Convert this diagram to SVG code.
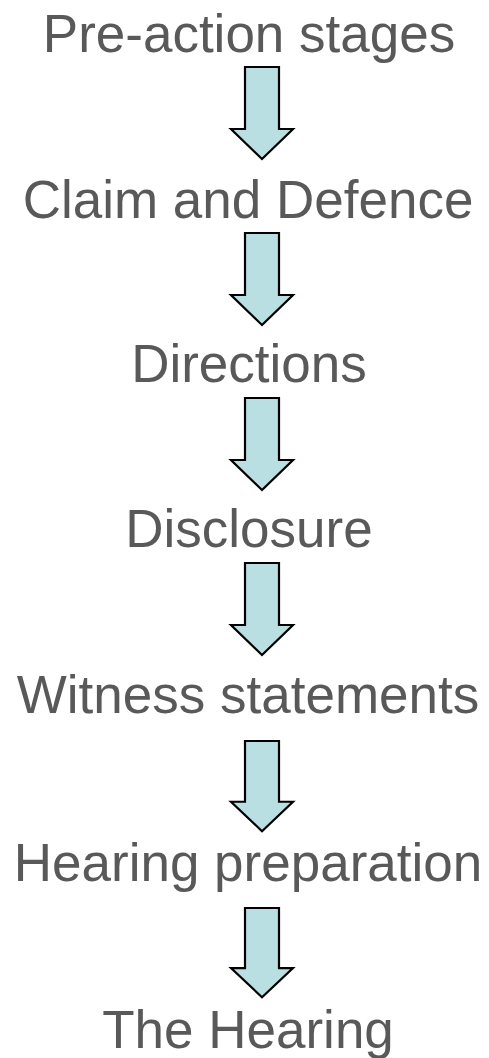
<svg xmlns="http://www.w3.org/2000/svg" width="489" height="1058" viewBox="0 0 489 1058">
<style>
.t{font-family:"Liberation Sans",Arial,sans-serif;font-size:53px;fill:#595959;text-anchor:middle}
.a{fill:#b9dfe2;stroke:#000;stroke-width:2.2;stroke-linejoin:miter}
</style>
<defs>
<path id="arr" d="M-17,0 H17 V62 H31 L0,92 L-31,62 H-17 Z"/>
</defs>
<rect width="489" height="1058" fill="#fff"/>
<g id="n1"><text class="t" x="249" y="52">Pre-action stages</text></g>
<g id="n2"><text class="t" x="248" y="218">Claim and Defence</text></g>
<g id="n3"><text class="t" x="249" y="382">Directions</text></g>
<g id="n4"><text class="t" x="249" y="547">Disclosure</text></g>
<g id="n5"><text class="t" x="248" y="713">Witness statements</text></g>
<g id="n6"><text class="t" x="248" y="881">Hearing preparation</text></g>
<g id="n7"><text class="t" x="248" y="1048">The Hearing</text></g>
<g id="connectors">
<use href="#arr" class="a" transform="translate(262,67)"/>
<use href="#arr" class="a" transform="translate(262,233)"/>
<use href="#arr" class="a" transform="translate(262,398)"/>
<use href="#arr" class="a" transform="translate(262,563)"/>
<use href="#arr" class="a" transform="translate(262,741) scale(1,0.98)"/>
<use href="#arr" class="a" transform="translate(262,908) scale(1,0.97)"/>
</g>
</svg>
